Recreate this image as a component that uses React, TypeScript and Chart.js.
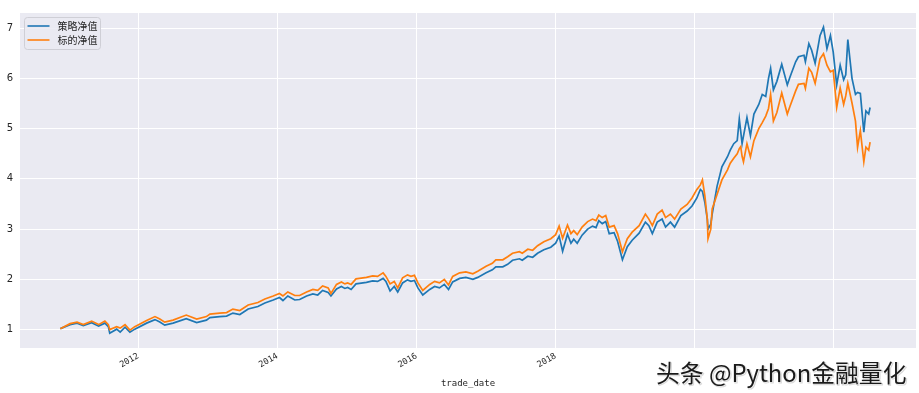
import React, { useEffect, useRef } from "react";
import { Chart, registerables } from "chart.js";

Chart.register(...registerables);

const dates = [
  2010.88, 2011.02, 2011.12, 2011.21, 2011.33, 2011.43, 2011.52, 2011.57, 2011.59, 2011.69,
  2011.74, 2011.81, 2011.88, 2011.95, 2012.12, 2012.24, 2012.31, 2012.38, 2012.50, 2012.69,
  2012.84, 2012.98, 2013.03, 2013.17, 2013.27, 2013.36, 2013.46, 2013.58, 2013.72, 2013.82,
  2013.94, 2014.03, 2014.08, 2014.15, 2014.25, 2014.32, 2014.42, 2014.51, 2014.58, 2014.65,
  2014.73, 2014.77, 2014.85, 2014.92, 2014.97, 2015.01, 2015.06, 2015.13, 2015.18, 2015.28,
  2015.37, 2015.44, 2015.52, 2015.56, 2015.62, 2015.68, 2015.73, 2015.80, 2015.87, 2015.92,
  2015.97, 2016.02, 2016.09, 2016.19, 2016.26, 2016.33, 2016.40, 2016.46, 2016.52, 2016.62,
  2016.71, 2016.81, 2016.88, 2017.00, 2017.09, 2017.14, 2017.24, 2017.31, 2017.38, 2017.48,
  2017.52, 2017.60, 2017.67, 2017.74, 2017.83, 2017.93, 2018.00, 2018.05, 2018.10, 2018.17,
  2018.22, 2018.26, 2018.31, 2018.38, 2018.46, 2018.53, 2018.58, 2018.62, 2018.67, 2018.72,
  2018.77, 2018.84, 2018.89, 2018.96, 2019.03, 2019.10, 2019.20, 2019.29,
  2019.34, 2019.39, 2019.46, 2019.53, 2019.58, 2019.65, 2019.71, 2019.80, 2019.89, 2019.96,
  2020.03, 2020.08, 2020.11, 2020.145, 2020.18, 2020.19, 2020.23, 2020.25, 2020.32, 2020.39,
  2020.47, 2020.51, 2020.56, 2020.61, 2020.64, 2020.66, 2020.68, 2020.70, 2020.75, 2020.80,
  2020.85, 2020.92, 2020.97, 2021.02, 2021.06, 2021.09, 2021.13, 2021.18, 2021.25, 2021.33,
  2021.37, 2021.45, 2021.49, 2021.57, 2021.59, 2021.64, 2021.68, 2021.73, 2021.80, 2021.85,
  2021.90, 2021.95, 2021.99, 2022.04, 2022.09, 2022.14, 2022.17, 2022.20, 2022.26, 2022.31,
  2022.34, 2022.38, 2022.43, 2022.46, 2022.50, 2022.52,
];

// 策略净值
const strategy = [
  1.02, 1.10, 1.13, 1.08, 1.14, 1.07, 1.13, 1.06, 0.93, 1.01,
  0.95, 1.05, 0.95, 1.01, 1.13, 1.20, 1.15, 1.09, 1.13, 1.22,
  1.14, 1.19, 1.24, 1.26, 1.27, 1.33, 1.30, 1.41, 1.46, 1.53,
  1.59, 1.64, 1.58, 1.67, 1.59, 1.60, 1.67, 1.71, 1.69, 1.78,
  1.74, 1.67, 1.81, 1.86, 1.82, 1.84, 1.80, 1.91, 1.92, 1.94,
  1.97, 1.96, 2.02, 1.96, 1.77, 1.86, 1.75, 1.93, 1.99, 1.96,
  1.98, 1.83, 1.69, 1.80, 1.86, 1.83, 1.90, 1.80, 1.95, 2.02,
  2.04, 2.00, 2.04, 2.13, 2.19, 2.25, 2.25, 2.30, 2.38, 2.41,
  2.38, 2.46, 2.44, 2.52, 2.59, 2.64, 2.72, 2.86, 2.56, 2.90,
  2.72, 2.80, 2.72, 2.88, 3.00, 3.06, 3.03, 3.17, 3.11, 3.15,
  2.91, 2.93, 2.76, 2.39, 2.65, 2.78, 2.92, 3.14,
  3.07, 2.91, 3.14, 3.20, 3.04, 3.14, 3.04, 3.27, 3.36, 3.46,
  3.62, 3.79, 3.75, 3.53, 3.20, 3.00, 3.10, 3.30, 3.85, 4.24,
  4.44, 4.57, 4.70, 4.76, 5.19, 4.95, 4.70, 4.85, 5.22, 4.86,
  5.29, 5.48, 5.68, 5.64, 6.00, 6.20, 5.77, 5.94, 6.28, 5.87,
  6.03, 6.33, 6.43, 6.46, 6.33, 6.69, 6.56, 6.30, 6.85, 7.02,
  6.59, 6.85, 6.52, 5.87, 6.26, 5.97, 6.07, 6.77, 6.00, 5.68,
  5.72, 5.70, 4.93, 5.35, 5.29, 5.42,
];

// 标的净值
const benchmark = [
  1.02, 1.12, 1.15, 1.10, 1.17, 1.10, 1.17, 1.10, 1.00, 1.06,
  1.03, 1.10, 0.99, 1.06, 1.18, 1.26, 1.21, 1.15, 1.19, 1.29,
  1.21, 1.26, 1.31, 1.33, 1.34, 1.41, 1.38, 1.49, 1.54, 1.61,
  1.67, 1.72, 1.67, 1.75, 1.68, 1.68, 1.75, 1.80, 1.78, 1.87,
  1.83, 1.72, 1.90, 1.95, 1.91, 1.93, 1.90, 2.01, 2.02, 2.04,
  2.07, 2.06, 2.13, 2.06, 1.91, 1.96, 1.83, 2.03, 2.09, 2.06,
  2.08, 1.93, 1.78, 1.90, 1.96, 1.93, 2.00, 1.89, 2.06, 2.13,
  2.15, 2.11, 2.16, 2.26, 2.32, 2.39, 2.39, 2.45, 2.52, 2.55,
  2.52, 2.60, 2.58, 2.67, 2.75, 2.81, 2.89, 3.06, 2.82, 3.08,
  2.91, 2.97, 2.89, 3.04, 3.15, 3.20, 3.17, 3.28, 3.23, 3.27,
  3.04, 3.07, 2.91, 2.55, 2.81, 2.94, 3.07, 3.30,
  3.20, 3.07, 3.30, 3.38, 3.23, 3.30, 3.20, 3.40, 3.49, 3.62,
  3.79, 3.88, 3.98, 3.66, 3.20, 2.81, 3.00, 3.40, 3.69, 3.98,
  4.18, 4.31, 4.41, 4.50, 4.60, 4.64, 4.45, 4.34, 4.70, 4.44,
  4.76, 5.00, 5.12, 5.25, 5.40, 5.68, 5.15, 5.32, 5.71, 5.29,
  5.45, 5.75, 5.88, 5.90, 5.80, 6.20, 6.12, 5.90, 6.39, 6.49,
  6.26, 6.13, 6.16, 5.42, 5.81, 5.48, 5.65, 5.90, 5.51, 5.15,
  4.63, 4.96, 4.34, 4.63, 4.57, 4.73,
];

const seriesNames = ["策略净值", "标的净值"];
const seriesColors = ["#1f77b4", "#ff7f0e"];
const xTicks = [2012, 2014, 2016, 2018, 2020, 2022];
const yTicks = [1, 2, 3, 4, 5, 6, 7];
const xTitle = "trade_date";
const watermark = "头条 @Python金融量化";

const W = 919;
const H = 393;

export default function App() {
  const ref = useRef<HTMLCanvasElement | null>(null);

  useEffect(() => {
    const canvas = ref.current;
    if (!canvas) return;

    const bgPlugin = {
      id: "bg",
      beforeDraw(chart: any) {
        const { ctx, chartArea } = chart;
        ctx.save();
        ctx.fillStyle = "#ffffff";
        ctx.fillRect(0, 0, chart.width, chart.height);
        ctx.fillStyle = "#eaeaf2";
        ctx.fillRect(chartArea.left, chartArea.top, chartArea.right - chartArea.left, chartArea.bottom - chartArea.top);
        ctx.restore();
      },
    };

    const legendPlugin = {
      id: "innerLegend",
      afterDraw(chart: any) {
        const { ctx, chartArea } = chart;
        const x0 = chartArea.left + 4.5;
        const y0 = chartArea.top + 4.5;
        const w = 76;
        const h = 32;
        ctx.save();
        ctx.beginPath();
        const r = 3;
        ctx.moveTo(x0 + r, y0);
        ctx.lineTo(x0 + w - r, y0);
        ctx.arcTo(x0 + w, y0, x0 + w, y0 + r, r);
        ctx.lineTo(x0 + w, y0 + h - r);
        ctx.arcTo(x0 + w, y0 + h, x0 + w - r, y0 + h, r);
        ctx.lineTo(x0 + r, y0 + h);
        ctx.arcTo(x0, y0 + h, x0, y0 + h - r, r);
        ctx.lineTo(x0, y0 + r);
        ctx.arcTo(x0, y0, x0 + r, y0, r);
        ctx.closePath();
        ctx.fillStyle = "rgba(234,234,242,0.85)";
        ctx.fill();
        ctx.strokeStyle = "#cfcfd6";
        ctx.lineWidth = 1;
        ctx.stroke();
        ctx.font = "10px 'Noto Sans CJK SC'";
        ctx.textBaseline = "middle";
        ctx.textAlign = "left";
        seriesNames.forEach((name, i) => {
          const yy = y0 + 8.5 + i * 14;
          ctx.strokeStyle = seriesColors[i];
          ctx.lineWidth = 1.6;
          ctx.beginPath();
          ctx.moveTo(x0 + 3, yy);
          ctx.lineTo(x0 + 25, yy);
          ctx.stroke();
          ctx.fillStyle = "#262626";
          ctx.fillText(name, x0 + 33, yy + 0.5);
        });
        ctx.restore();
      },
    };

    const watermarkPlugin = {
      id: "watermark",
      afterDraw(chart: any) {
        const { ctx, chartArea } = chart;
        ctx.save();
        ctx.fillStyle = "#ffffff";
        ctx.fillRect(648, chartArea.bottom + 1, chart.width - 648, chart.height - chartArea.bottom - 1);
        ctx.font = "24px 'Noto Sans CJK SC'";
        const mw = ctx.measureText(watermark).width;
        const target = 250;
        const size = 24 * (target / mw);
        ctx.font = `${size.toFixed(1)}px 'Noto Sans CJK SC'`;
        ctx.textBaseline = "middle";
        ctx.textAlign = "left";
        ctx.lineJoin = "round";
        ctx.strokeStyle = "rgba(150,150,150,0.35)";
        ctx.lineWidth = 1.2;
        ctx.strokeText(watermark, 657, 373.5);
        ctx.fillStyle = "#1a1a1a";
        ctx.fillText(watermark, 656, 372.5);
        ctx.restore();
      },
    };

    const chart = new Chart(canvas, {
      type: "line",
      data: {
        datasets: [
          {
            label: seriesNames[0],
            data: dates.map((d, i) => ({ x: d, y: strategy[i] })),
            borderColor: seriesColors[0],
            backgroundColor: seriesColors[0],
            borderWidth: 1.7,
            pointRadius: 0,
            tension: 0,
            order: 1,
          },
          {
            label: seriesNames[1],
            data: dates.map((d, i) => ({ x: d, y: benchmark[i] })),
            borderColor: seriesColors[1],
            backgroundColor: seriesColors[1],
            borderWidth: 1.7,
            pointRadius: 0,
            tension: 0,
            order: 0,
          },
        ],
      },
      options: {
        responsive: false,
        animation: false,
        maintainAspectRatio: false,
        layout: { padding: { left: 0, right: 3, top: 7, bottom: 0 } },
        plugins: {
          legend: { display: false },
          tooltip: { enabled: false },
        },
        scales: {
          x: {
            type: "linear",
            min: 2010.30,
            max: 2023.18,
            afterBuildTicks: (scale: any) => {
              scale.ticks = xTicks.map((v) => ({ value: v }));
            },
            afterFit: (scale: any) => {
              scale.height = 45;
            },
            grid: { color: "#ffffff", lineWidth: 1, drawTicks: false },
            border: { display: false },
            ticks: {
              minRotation: 30,
              maxRotation: 30,
              padding: 3,
              color: "#262626",
              font: { family: "'DejaVu Sans Mono'", size: 8.5 },
              callback: (v: any) => String(v),
            },
            title: {
              display: true,
              text: xTitle,
              color: "#262626",
              font: { family: "'DejaVu Sans Mono'", size: 9 },
              padding: { top: 0, bottom: 4 },
            },
          },
          y: {
            type: "linear",
            min: 0.635,
            max: 7.3,
            afterBuildTicks: (scale: any) => {
              scale.ticks = yTicks.map((v) => ({ value: v }));
            },
            afterFit: (scale: any) => {
              scale.width = 20;
            },
            grid: { color: "#ffffff", lineWidth: 1, drawTicks: false },
            border: { display: false },
            ticks: {
              padding: 7,
              color: "#262626",
              font: { family: "'DejaVu Sans'", size: 10 },
              callback: (v: any) => String(v),
            },
          },
        },
      },
      plugins: [bgPlugin, legendPlugin, watermarkPlugin],
    } as any);

    return () => {
      chart.destroy();
    };
  }, []);

  return (
    <div style={{ position: "fixed", left: 0, top: 0, width: W, height: H, background: "#fff" }}>
      <canvas ref={ref} width={W} height={H} style={{ width: W, height: H, display: "block" }} />
    </div>
  );
}
